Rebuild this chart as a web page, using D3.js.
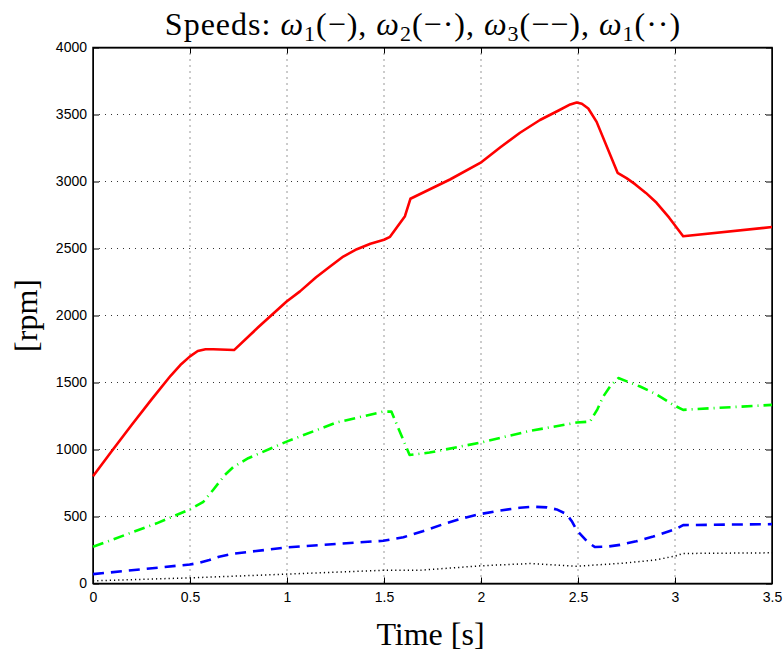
<!DOCTYPE html>
<meta charset="UTF-8">
<style>
  body { margin: 0; background: #fff; }
  .grid line { stroke: #333; stroke-width: 1px; stroke-dasharray: 1,5; }
  .axis text { font: 14px "Liberation Sans", Arial, sans-serif; fill: #000; }
  .axis path, .axis line { stroke: #000; }
  .line { fill: none; stroke-linejoin: round; }
</style>
<body>
<svg id="chart" width="784" height="657"></svg>

<script src="https://cdn.jsdelivr.net/npm/d3@7"></script>
<script>

// axis ticks
var xTicks = [0, 0.5, 1, 1.5, 2, 2.5, 3, 3.5];
var yTicks = [0, 500, 1000, 1500, 2000, 2500, 3000, 3500, 4000];

// omega 1 (solid red)
var w1_t = [0, 0.1, 0.2, 0.3, 0.4, 0.45, 0.5, 0.54, 0.58, 0.62, 0.727, 0.85, 0.998, 1.067, 1.15, 1.222, 1.29, 1.36, 1.43, 1.5, 1.531, 1.608, 1.636, 1.84, 2.003, 2.1, 2.201, 2.304, 2.4, 2.46, 2.493, 2.52, 2.553, 2.596, 2.704, 2.75, 2.794, 2.85, 2.905, 2.97, 3.042, 3.5];
var w1_v = [800, 995, 1185, 1370, 1550, 1630, 1695, 1735, 1748, 1748, 1742, 1910, 2105, 2180, 2285, 2365, 2440, 2495, 2535, 2565, 2587, 2741, 2871, 3015, 3145, 3255, 3364, 3459, 3530, 3575, 3590, 3580, 3545, 3445, 3065, 3025, 2980, 2915, 2841, 2730, 2591, 2660];

// omega 2 (green dash-dot)
var w2_t = [0, 0.328, 0.5, 0.569, 0.62, 0.68, 0.722, 0.8, 0.998, 1.254, 1.496, 1.538, 1.632, 1.735, 1.995, 2.253, 2.493, 2.562, 2.6, 2.63, 2.67, 2.708, 2.82, 2.9, 2.991, 3.042, 3.5];
var w2_v = [274, 449, 553, 610, 700, 810, 868, 935, 1059, 1201, 1283, 1283, 959, 977, 1051, 1139, 1201, 1208, 1300, 1395, 1480, 1533, 1470, 1415, 1333, 1296, 1333];

// omega 3 (blue dashed)
var w3_t = [0, 0.5, 0.55, 0.6, 0.65, 0.722, 0.998, 1.496, 1.6, 1.7, 1.8, 1.9, 1.995, 2.1, 2.2, 2.27, 2.34, 2.39, 2.441, 2.47, 2.493, 2.553, 2.588, 2.65, 2.716, 2.8, 2.888, 3.0, 3.042, 3.5];
var w3_v = [70, 142, 155, 175, 200, 222, 269, 319, 345, 390, 440, 485, 518, 545, 565, 573, 568, 553, 518, 460, 398, 304, 272, 275, 288, 315, 350, 404, 436, 443];

// fourth trace (black dotted)
var w4_t = [0, 0.5, 1.0, 1.5, 1.686, 2.0, 2.25, 2.49, 2.72, 2.89, 3.0, 3.04, 3.5];
var w4_v = [20, 42, 70, 99, 99, 132, 149, 129, 150, 174, 204, 224, 229];

var svg = d3.select("#chart");
var margin = {top: 47.5, right: 12, bottom: 73.5, left: 93},
    width = 784 - margin.left - margin.right,
    height = 657 - margin.top - margin.bottom;

var g = svg.append("g")
    .attr("transform", "translate(" + margin.left + "," + margin.top + ")");

var x = d3.scaleLinear().domain([0, 3.5]).range([0, width]);
var y = d3.scaleLinear().domain([0, 4000]).range([height, 0]);

// dotted grid
g.append("g").attr("class", "grid")
  .selectAll("line").data(xTicks.slice(1, -1)).enter().append("line")
    .attr("x1", d => x(d)).attr("x2", d => x(d))
    .attr("y1", 0).attr("y2", height);
g.append("g").attr("class", "grid")
  .selectAll("line").data(yTicks.slice(1, -1)).enter().append("line")
    .attr("x1", 0).attr("x2", width)
    .attr("y1", d => y(d)).attr("y2", d => y(d));

// axes, ticks pointing inward on all four sides
g.append("g").attr("class", "axis")
  .attr("transform", "translate(0," + height + ")")
  .call(d3.axisBottom(x).tickValues(xTicks).tickFormat(d3.format("")).tickSizeInner(-6).tickSizeOuter(0).tickPadding(9));
g.append("g").attr("class", "axis")
  .call(d3.axisLeft(y).tickValues(yTicks).tickFormat(d3.format("")).tickSizeInner(-6).tickSizeOuter(0).tickPadding(6));
g.append("g").attr("class", "axis")
  .call(d3.axisTop(x).tickValues(xTicks).tickFormat("").tickSizeInner(-6).tickSizeOuter(0));
g.append("g").attr("class", "axis")
  .attr("transform", "translate(" + width + ",0)")
  .call(d3.axisRight(y).tickValues(yTicks).tickFormat("").tickSizeInner(-6).tickSizeOuter(0));

g.append("rect")
  .attr("width", width).attr("height", height)
  .attr("fill", "none").attr("stroke", "#000").attr("stroke-width", 1.5);

var line = d3.line()
    .x(d => x(d[0]))
    .y(d => y(d[1]));

function pairs(t, v) { return t.map((d, i) => [d, v[i]]); }

g.append("path").attr("class", "line")
  .attr("d", line(pairs(w4_t, w4_v)))
  .attr("stroke", "#000").attr("stroke-width", 1.5)
  .attr("stroke-dasharray", "1.2,3");

g.append("path").attr("class", "line")
  .attr("d", line(pairs(w3_t, w3_v)))
  .attr("stroke", "#0000ff").attr("stroke-width", 2.6)
  .attr("stroke-dasharray", "11,7");

g.append("path").attr("class", "line")
  .attr("d", line(pairs(w2_t, w2_v)))
  .attr("stroke", "#00ff00").attr("stroke-width", 2.6)
  .attr("stroke-dasharray", "11,5,1,5");

g.append("path").attr("class", "line")
  .attr("d", line(pairs(w1_t, w1_v)))
  .attr("stroke", "#ff0000").attr("stroke-width", 2.6);

// title
var serif = '"Liberation Serif", "DejaVu Serif", serif';
var title = svg.append("text")
  .attr("x", 423).attr("y", 35)
  .attr("text-anchor", "middle")
  .style("font-family", serif).style("font-size", "32px")
  .style("letter-spacing", "1px");

var parts = [["ω", "1", "(−), "], ["ω", "2", "(−·), "], ["ω", "3", "(−−), "], ["ω", "1", "(··)"]];
title.append("tspan").text("Speeds: ");
parts.forEach(function(p) {
  title.append("tspan").style("font-style", "italic").text(p[0]);
  title.append("tspan").attr("dy", 6).style("font-size", "22px").text(p[1]);
  title.append("tspan").attr("dy", -6).text(p[2]);
});

// axis labels
svg.append("text")
  .attr("x", margin.left + width / 2 - 2).attr("y", 645)
  .attr("text-anchor", "middle")
  .style("font-family", serif).style("font-size", "32px")
  .text("Time [s]");

svg.append("text")
  .attr("transform", "translate(37," + (margin.top + height / 2) + ") rotate(-90)")
  .attr("text-anchor", "middle")
  .style("font-family", serif).style("font-size", "32px")
  .text("[rpm]");

</script>
</body>
